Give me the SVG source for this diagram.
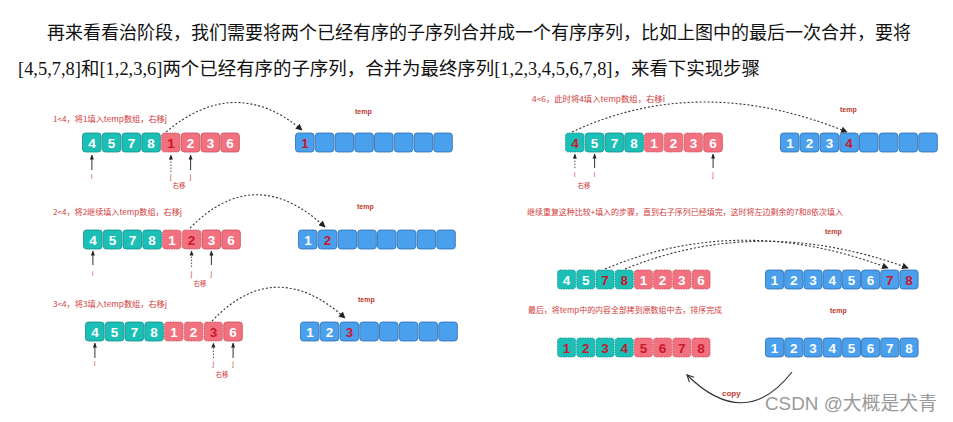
<svg xmlns="http://www.w3.org/2000/svg" width="953" height="422" viewBox="0 0 953 422">
<style>
.bg{fill:#fff}
.para{font-family:"Liberation Serif","Noto Sans CJK SC",serif;font-size:18px;fill:#111}
.t{fill:#1cbfb6;stroke:#13908a;stroke-width:0.8}
.p{fill:#f2717f;stroke:#c9505c;stroke-width:0.8}
.b{fill:#4aa0ec;stroke:#2d6db0;stroke-width:0.8}
.d{stroke-dasharray:1.5 1}
.n{font-family:"Liberation Sans",Arial,sans-serif;font-weight:bold;font-size:13.5px;fill:#fff;text-anchor:middle}
.r{fill:#c8182c}
.lab{font-family:"Noto Sans CJK SC",sans-serif;font-size:7.5px;fill:#d23a3a}
.tmp{font-family:"Liberation Sans",Arial,sans-serif;font-weight:bold;font-size:7px;fill:#c0392b}
.ij{font-family:"Liberation Sans",Arial,sans-serif;font-size:7px;fill:#d23a3a;text-anchor:middle}
.sm{font-family:"Noto Sans CJK SC",sans-serif;font-size:6.5px;fill:#d23a3a;text-anchor:middle}
.con{fill:none;stroke:#333;stroke-width:1.1;stroke-dasharray:2 2}
.up{stroke:#333;stroke-width:1}
.upd{stroke:#555;stroke-width:1;stroke-dasharray:1.5 1.5}
.copy{fill:none;stroke:#333;stroke-width:1.2}
.wm{font-family:"Liberation Sans","Noto Sans CJK SC",sans-serif;font-size:19px;fill:#9a9a9a}
</style>
<defs>
<marker id="ah" viewBox="0 0 10 10" refX="9" refY="5" markerWidth="6" markerHeight="6" orient="auto"><path d="M0,0 L10,5 L0,10 z" fill="#222"/></marker>
<marker id="ahs" viewBox="0 0 10 10" refX="9" refY="5" markerWidth="5" markerHeight="5" orient="auto"><path d="M0,1 L10,5 L0,9 z" fill="#222"/></marker>
<marker id="aho" viewBox="0 0 10 10" refX="9" refY="5" markerWidth="7" markerHeight="7" orient="auto"><path d="M1,1 L9,5 L1,9" fill="none" stroke="#333" stroke-width="1.4"/></marker>
</defs>
<rect class="bg" x="0" y="0" width="953" height="422"/>

<g id="paragraph">
<text class="para" x="47" y="39" textLength="864" lengthAdjust="spacingAndGlyphs">再来看看治阶段，我们需要将两个已经有序的子序列合并成一个有序序列，比如上图中的最后一次合并，要将</text>
<text class="para" x="18" y="75" textLength="742" lengthAdjust="spacingAndGlyphs">[4,5,7,8]和[1,2,3,6]两个已经有序的子序列，合并为最终序列[1,2,3,4,5,6,7,8]，来看下实现步骤</text>
</g>

<!-- Step 1 (left top) -->
<g id="step1">
<text class="lab" x="53" y="122" textLength="114" lengthAdjust="spacingAndGlyphs">1&lt;4，将1填入temp数组，右移j</text>
<text class="tmp" x="355" y="114">temp</text>
<g id="s1-arr">
<rect class="t" x="82.5" y="133" width="18.6" height="19" rx="3"/>
<rect class="t" x="102.25" y="133" width="18.6" height="19" rx="3"/>
<rect class="t" x="122" y="133" width="18.6" height="19" rx="3"/>
<rect class="t" x="141.75" y="133" width="18.6" height="19" rx="3"/>
<rect class="p d" x="161.5" y="133" width="18.6" height="19" rx="3"/>
<rect class="p" x="181.25" y="133" width="18.6" height="19" rx="3"/>
<rect class="p" x="201" y="133" width="18.6" height="19" rx="3"/>
<rect class="p" x="220.75" y="133" width="18.6" height="19" rx="3"/>
<text class="n" x="91.9" y="147.5">4</text><text class="n" x="111.6" y="147.5">5</text><text class="n" x="131.4" y="147.5">7</text><text class="n" x="151.1" y="147.5">8</text>
<text class="n r" x="170.9" y="147.5">1</text><text class="n" x="190.6" y="147.5">2</text><text class="n" x="210.4" y="147.5">3</text><text class="n" x="230.1" y="147.5">6</text>
</g>
<g id="s1-temp">
<rect class="b" x="295.5" y="133" width="18.6" height="19" rx="3"/>
<rect class="b" x="315.25" y="133" width="18.6" height="19" rx="3"/>
<rect class="b" x="335" y="133" width="18.6" height="19" rx="3"/>
<rect class="b" x="354.75" y="133" width="18.6" height="19" rx="3"/>
<rect class="b" x="374.5" y="133" width="18.6" height="19" rx="3"/>
<rect class="b" x="394.25" y="133" width="18.6" height="19" rx="3"/>
<rect class="b" x="414" y="133" width="18.6" height="19" rx="3"/>
<rect class="b" x="433.75" y="133" width="18.6" height="19" rx="3"/>
<text class="n r" x="304.9" y="147.5">1</text>
</g>
<text class="ij" x="91.9" y="179">i</text>
<text class="ij" x="170.9" y="179">j</text>
<text class="ij" x="190.6" y="179">j</text>
<text class="sm" x="179" y="188">右移</text>
</g>

<!-- Step 2 -->
<g id="step2">
<text class="lab" x="53" y="215" textLength="129" lengthAdjust="spacingAndGlyphs">2&lt;4，将2继续填入temp数组，右移j</text>
<text class="tmp" x="357" y="209">temp</text>
<g id="s2-arr">
<rect class="t" x="83.5" y="230" width="18.6" height="19" rx="3"/>
<rect class="t" x="103.25" y="230" width="18.6" height="19" rx="3"/>
<rect class="t" x="123" y="230" width="18.6" height="19" rx="3"/>
<rect class="t" x="142.75" y="230" width="18.6" height="19" rx="3"/>
<rect class="p d" x="162.5" y="230" width="18.6" height="19" rx="3"/>
<rect class="p d" x="182.25" y="230" width="18.6" height="19" rx="3"/>
<rect class="p" x="202" y="230" width="18.6" height="19" rx="3"/>
<rect class="p" x="221.75" y="230" width="18.6" height="19" rx="3"/>
<text class="n" x="92.9" y="244.5">4</text><text class="n" x="112.6" y="244.5">5</text><text class="n" x="132.4" y="244.5">7</text><text class="n" x="152.1" y="244.5">8</text>
<text class="n" x="171.9" y="244.5">1</text><text class="n r" x="191.6" y="244.5">2</text><text class="n" x="211.4" y="244.5">3</text><text class="n" x="231.1" y="244.5">6</text>
</g>
<g id="s2-temp">
<rect class="b" x="298.5" y="230" width="18.6" height="19" rx="3"/>
<rect class="b" x="318.25" y="230" width="18.6" height="19" rx="3"/>
<rect class="b" x="338" y="230" width="18.6" height="19" rx="3"/>
<rect class="b" x="357.75" y="230" width="18.6" height="19" rx="3"/>
<rect class="b" x="377.5" y="230" width="18.6" height="19" rx="3"/>
<rect class="b" x="397.25" y="230" width="18.6" height="19" rx="3"/>
<rect class="b" x="417" y="230" width="18.6" height="19" rx="3"/>
<rect class="b" x="436.75" y="230" width="18.6" height="19" rx="3"/>
<text class="n" x="307.9" y="244.5">1</text><text class="n r" x="327.6" y="244.5">2</text>
</g>
<text class="ij" x="92.9" y="276">i</text>
<text class="ij" x="191.6" y="276">j</text>
<text class="ij" x="211.4" y="276">j</text>
<text class="sm" x="200" y="286">右移</text>
</g>

<!-- Step 3 -->
<g id="step3">
<text class="lab" x="53" y="307" textLength="114" lengthAdjust="spacingAndGlyphs">3&lt;4，将3填入temp数组，右移j</text>
<text class="tmp" x="358" y="302">temp</text>
<g id="s3-arr">
<rect class="t" x="85.5" y="322" width="18.6" height="19" rx="3"/>
<rect class="t" x="105.25" y="322" width="18.6" height="19" rx="3"/>
<rect class="t" x="125" y="322" width="18.6" height="19" rx="3"/>
<rect class="t" x="144.75" y="322" width="18.6" height="19" rx="3"/>
<rect class="p d" x="164.5" y="322" width="18.6" height="19" rx="3"/>
<rect class="p d" x="184.25" y="322" width="18.6" height="19" rx="3"/>
<rect class="p d" x="204" y="322" width="18.6" height="19" rx="3"/>
<rect class="p" x="223.75" y="322" width="18.6" height="19" rx="3"/>
<text class="n" x="94.9" y="336.5">4</text><text class="n" x="114.6" y="336.5">5</text><text class="n" x="134.4" y="336.5">7</text><text class="n" x="154.1" y="336.5">8</text>
<text class="n" x="173.9" y="336.5">1</text><text class="n" x="193.6" y="336.5">2</text><text class="n r" x="213.4" y="336.5">3</text><text class="n" x="233.1" y="336.5">6</text>
</g>
<g id="s3-temp">
<rect class="b" x="300.5" y="322" width="18.6" height="19" rx="3"/>
<rect class="b" x="320.25" y="322" width="18.6" height="19" rx="3"/>
<rect class="b" x="340" y="322" width="18.6" height="19" rx="3"/>
<rect class="b" x="359.75" y="322" width="18.6" height="19" rx="3"/>
<rect class="b" x="379.5" y="322" width="18.6" height="19" rx="3"/>
<rect class="b" x="399.25" y="322" width="18.6" height="19" rx="3"/>
<rect class="b" x="419" y="322" width="18.6" height="19" rx="3"/>
<rect class="b" x="438.75" y="322" width="18.6" height="19" rx="3"/>
<text class="n" x="309.9" y="336.5">1</text><text class="n" x="329.6" y="336.5">2</text><text class="n r" x="349.4" y="336.5">3</text>
</g>
<text class="ij" x="94.9" y="366">i</text>
<text class="ij" x="213.4" y="366">j</text>
<text class="ij" x="233.1" y="366">j</text>
<text class="sm" x="222" y="377">右移</text>
</g>

<!-- Step 4 (right top) -->
<g id="step4">
<text class="lab" x="532" y="102" textLength="133" lengthAdjust="spacingAndGlyphs">4&lt;6，此时将4填入temp数组，右移i</text>
<text class="tmp" x="840" y="112">temp</text>
<g id="s4-arr">
<rect class="t d" x="565.5" y="133" width="18.6" height="19" rx="3"/>
<rect class="t" x="585.25" y="133" width="18.6" height="19" rx="3"/>
<rect class="t" x="605" y="133" width="18.6" height="19" rx="3"/>
<rect class="t" x="624.75" y="133" width="18.6" height="19" rx="3"/>
<rect class="p d" x="644.5" y="133" width="18.6" height="19" rx="3"/>
<rect class="p d" x="664.25" y="133" width="18.6" height="19" rx="3"/>
<rect class="p d" x="684" y="133" width="18.6" height="19" rx="3"/>
<rect class="p" x="703.75" y="133" width="18.6" height="19" rx="3"/>
<text class="n r" x="574.9" y="147.5">4</text><text class="n" x="594.6" y="147.5">5</text><text class="n" x="614.4" y="147.5">7</text><text class="n" x="634.1" y="147.5">8</text>
<text class="n" x="653.9" y="147.5">1</text><text class="n" x="673.6" y="147.5">2</text><text class="n" x="693.4" y="147.5">3</text><text class="n" x="713.1" y="147.5">6</text>
</g>
<g id="s4-temp">
<rect class="b" x="780.5" y="133" width="18.6" height="19" rx="3"/>
<rect class="b" x="800.25" y="133" width="18.6" height="19" rx="3"/>
<rect class="b" x="820" y="133" width="18.6" height="19" rx="3"/>
<rect class="b" x="839.75" y="133" width="18.6" height="19" rx="3"/>
<rect class="b" x="859.5" y="133" width="18.6" height="19" rx="3"/>
<rect class="b" x="879.25" y="133" width="18.6" height="19" rx="3"/>
<rect class="b" x="899" y="133" width="18.6" height="19" rx="3"/>
<rect class="b" x="918.75" y="133" width="18.6" height="19" rx="3"/>
<text class="n" x="789.9" y="147.5">1</text><text class="n" x="809.6" y="147.5">2</text><text class="n" x="829.4" y="147.5">3</text><text class="n r" x="849.1" y="147.5">4</text>
</g>
<text class="ij" x="574.9" y="177">i</text>
<text class="ij" x="594.6" y="177">i</text>
<text class="ij" x="713.1" y="177">j</text>
<text class="sm" x="584" y="188">右移</text>
</g>

<!-- Step 5 -->
<g id="step5">
<text class="lab" x="527" y="215" textLength="316" lengthAdjust="spacingAndGlyphs">继续重复这种比较+填入的步骤，直到右子序列已经填完，这时将左边剩余的7和8依次填入</text>
<text class="tmp" x="825" y="234">temp</text>
<g id="s5-arr">
<rect class="t d" x="557.5" y="270" width="18.2" height="19" rx="3"/>
<rect class="t d" x="576.7" y="270" width="18.2" height="19" rx="3"/>
<rect class="t d" x="595.9" y="270" width="18.2" height="19" rx="3"/>
<rect class="t d" x="615.1" y="270" width="18.2" height="19" rx="3"/>
<rect class="p d" x="634.3" y="270" width="18.2" height="19" rx="3"/>
<rect class="p d" x="653.5" y="270" width="18.2" height="19" rx="3"/>
<rect class="p d" x="672.7" y="270" width="18.2" height="19" rx="3"/>
<rect class="p d" x="691.9" y="270" width="18.2" height="19" rx="3"/>
<text class="n" x="566.6" y="284.5">4</text><text class="n" x="585.8" y="284.5">5</text><text class="n r" x="605" y="284.5">7</text><text class="n r" x="624.2" y="284.5">8</text>
<text class="n" x="643.4" y="284.5">1</text><text class="n" x="662.6" y="284.5">2</text><text class="n" x="681.8" y="284.5">3</text><text class="n" x="701" y="284.5">6</text>
</g>
<g id="s5-temp">
<rect class="b" x="765.5" y="270" width="18.2" height="19" rx="3"/>
<rect class="b" x="784.7" y="270" width="18.2" height="19" rx="3"/>
<rect class="b" x="803.9" y="270" width="18.2" height="19" rx="3"/>
<rect class="b" x="823.1" y="270" width="18.2" height="19" rx="3"/>
<rect class="b" x="842.3" y="270" width="18.2" height="19" rx="3"/>
<rect class="b" x="861.5" y="270" width="18.2" height="19" rx="3"/>
<rect class="b" x="880.7" y="270" width="18.2" height="19" rx="3"/>
<rect class="b" x="899.9" y="270" width="18.2" height="19" rx="3"/>
<text class="n" x="774.6" y="284.5">1</text><text class="n" x="793.8" y="284.5">2</text><text class="n" x="813" y="284.5">3</text><text class="n" x="832.2" y="284.5">4</text>
<text class="n" x="851.4" y="284.5">5</text><text class="n" x="870.6" y="284.5">6</text><text class="n r" x="889.8" y="284.5">7</text><text class="n r" x="909" y="284.5">8</text>
</g>
</g>

<!-- Step 6 -->
<g id="step6">
<text class="lab" x="528" y="313" textLength="194" lengthAdjust="spacingAndGlyphs">最后，将temp中的内容全部拷到原数组中去，排序完成</text>
<text class="tmp" x="830" y="313">temp</text>
<g id="s6-arr">
<rect class="t d" x="557.5" y="338" width="18.2" height="19" rx="3"/>
<rect class="t d" x="576.7" y="338" width="18.2" height="19" rx="3"/>
<rect class="t d" x="595.9" y="338" width="18.2" height="19" rx="3"/>
<rect class="t d" x="615.1" y="338" width="18.2" height="19" rx="3"/>
<rect class="p d" x="634.3" y="338" width="18.2" height="19" rx="3"/>
<rect class="p d" x="653.5" y="338" width="18.2" height="19" rx="3"/>
<rect class="p d" x="672.7" y="338" width="18.2" height="19" rx="3"/>
<rect class="p d" x="691.9" y="338" width="18.2" height="19" rx="3"/>
<text class="n r" x="566.6" y="352.5">1</text><text class="n r" x="585.8" y="352.5">2</text><text class="n r" x="605" y="352.5">3</text><text class="n r" x="624.2" y="352.5">4</text>
<text class="n r" x="643.4" y="352.5">5</text><text class="n r" x="662.6" y="352.5">6</text><text class="n r" x="681.8" y="352.5">7</text><text class="n r" x="701" y="352.5">8</text>
</g>
<g id="s6-temp">
<rect class="b" x="765.5" y="338" width="18.2" height="19" rx="3"/>
<rect class="b" x="784.7" y="338" width="18.2" height="19" rx="3"/>
<rect class="b" x="803.9" y="338" width="18.2" height="19" rx="3"/>
<rect class="b" x="823.1" y="338" width="18.2" height="19" rx="3"/>
<rect class="b" x="842.3" y="338" width="18.2" height="19" rx="3"/>
<rect class="b" x="861.5" y="338" width="18.2" height="19" rx="3"/>
<rect class="b" x="880.7" y="338" width="18.2" height="19" rx="3"/>
<rect class="b" x="899.9" y="338" width="18.2" height="19" rx="3"/>
<text class="n" x="774.6" y="352.5">1</text><text class="n" x="793.8" y="352.5">2</text><text class="n" x="813" y="352.5">3</text><text class="n" x="832.2" y="352.5">4</text>
<text class="n" x="851.4" y="352.5">5</text><text class="n" x="870.6" y="352.5">6</text><text class="n" x="889.8" y="352.5">7</text><text class="n" x="909" y="352.5">8</text>
</g>
<text class="tmp" x="722" y="396" style="font-size:8px">copy</text>
</g>

<g id="connectors">
<path class="con" d="M166,132 Q235,74 302,130" marker-end="url(#ah)"/>
<path class="con" d="M190,228 Q255,162 325,227" marker-end="url(#ah)"/>
<path class="con" d="M212,321 Q275,255 345,318" marker-end="url(#ah)"/>
<path class="con" d="M572,132 Q700,72 847,132" marker-end="url(#ah)"/>
<path class="con" d="M605,269 Q740,212 888,268" marker-end="url(#ah)"/>
<path class="con" d="M625,269 Q760,214 908,268" marker-end="url(#ah)"/>
<line class="up" x1="91.9" y1="170" x2="91.9" y2="155" marker-end="url(#ahs)"/>
<line class="upd" x1="170.9" y1="172" x2="170.9" y2="155" marker-end="url(#ahs)"/>
<line class="up" x1="190.6" y1="170" x2="190.6" y2="155" marker-end="url(#ahs)"/>
<line class="up" x1="92.9" y1="265" x2="92.9" y2="251" marker-end="url(#ahs)"/>
<line class="upd" x1="191.6" y1="267" x2="191.6" y2="251" marker-end="url(#ahs)"/>
<line class="up" x1="211.4" y1="265" x2="211.4" y2="251" marker-end="url(#ahs)"/>
<line class="up" x1="94.9" y1="358" x2="94.9" y2="343" marker-end="url(#ahs)"/>
<line class="upd" x1="213.4" y1="358" x2="213.4" y2="343" marker-end="url(#ahs)"/>
<line class="up" x1="233.1" y1="358" x2="233.1" y2="343" marker-end="url(#ahs)"/>
<line class="upd" x1="574.9" y1="168" x2="574.9" y2="154" marker-end="url(#ahs)"/>
<line class="up" x1="594.6" y1="168" x2="594.6" y2="154" marker-end="url(#ahs)"/>
<line class="up" x1="713.1" y1="168" x2="713.1" y2="154" marker-end="url(#ahs)"/>
<path class="copy" d="M792,372 Q745,432 687,375" marker-end="url(#aho)"/>
</g>

<text class="wm" x="765" y="410" textLength="172" lengthAdjust="spacingAndGlyphs">CSDN @大概是犬青</text>
</svg>
